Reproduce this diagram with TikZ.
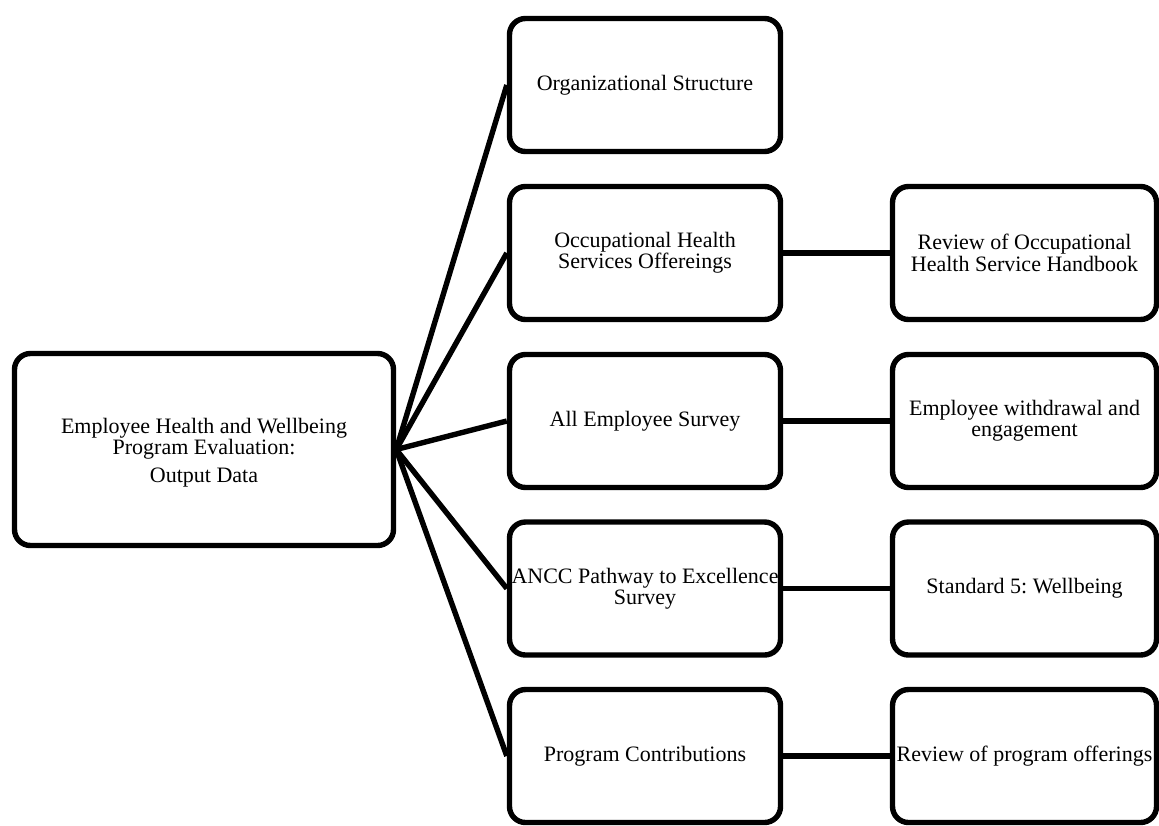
\documentclass[tikz,border=0pt]{standalone}
\usepackage{fontspec}
\setmainfont{Liberation Serif}
\frenchspacing
\begin{document}
\begin{tikzpicture}[x=0.5pt,y=-0.5pt,
  box/.style={draw, line width=2.7pt, rounded corners=8pt, align=center, inner sep=0pt,
    font=\fontsize{11}{10.7}\selectfont},
  rootbox/.style={box, minimum width=189.5pt, minimum height=96pt},
  midbox/.style={box, minimum width=135.5pt, minimum height=66.5pt},
  rightbox/.style={box, minimum width=132pt, minimum height=66.5pt},
  link/.style={line width=2.7pt}]
\useasboundingbox (0,0) rectangle (1159,825);

\node[rootbox] (root) at (204,449.5) {\rule{0pt}{3pt}\\[-3pt]Employee Health and Wellbeing\\Program Evaluation:\\[3pt]Output Data};

\node[midbox] (m1) at (645,85) {Organizational Structure};
\node[midbox] (m2) at (645,253) {Occupational Health\\Services Offereings};
\node[midbox] (m3) at (645,421) {All Employee Survey};
\node[midbox] (m4) at (645,588.5) {ANCC Pathway to Excellence\\Survey};
\node[midbox] (m5) at (645,756) {Program Contributions};

\node[rightbox] (r2) at (1024.5,253) {Review of Occupational\\Health Service Handbook};
\node[rightbox] (r3) at (1024.5,421) {Employee withdrawal and\\engagement};
\node[rightbox] (r4) at (1024.5,588.5) {Standard 5: Wellbeing};
\node[rightbox] (r5) at (1024.5,756) {Review of program offerings};

\foreach \m in {m1,m2,m3,m4,m5} \draw[link] (root.east) -- (\m.west);
\draw[link] (m2) -- (r2);
\draw[link] (m3) -- (r3);
\draw[link] (m4) -- (r4);
\draw[link] (m5) -- (r5);
\end{tikzpicture}
\end{document}
